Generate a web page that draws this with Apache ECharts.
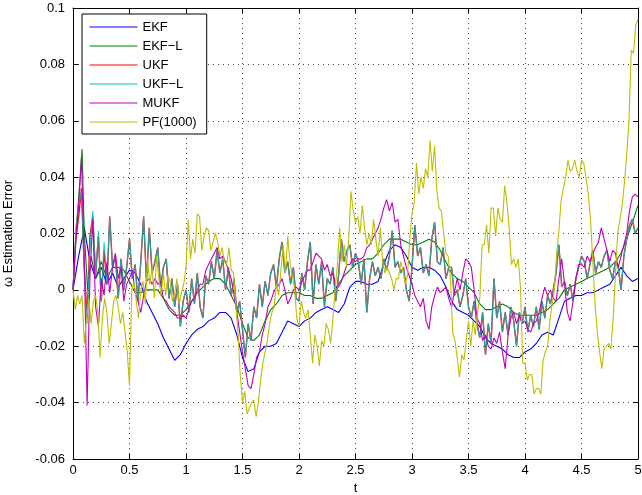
<!DOCTYPE html>
<html>
<head>
<meta charset="utf-8">
<script src="https://cdn.jsdelivr.net/npm/echarts@6/dist/echarts.min.js"></script>
<style>
html,body{margin:0;padding:0;background:#fff;}
#chart{width:642px;height:495px;}
</style>
</head>
<body>
<div id="chart"></div>
<script>
// ---------- data ----------
const seriesNames = ['EKF', 'EKF\u2212L', 'UKF', 'UKF\u2212L', 'MUKF', 'PF(1000)'];
const xTicks = [0, 0.5, 1, 1.5, 2, 2.5, 3, 3.5, 4, 4.5, 5];
const yTicks = [-0.06, -0.04, -0.02, 0, 0.02, 0.04, 0.06, 0.08, 0.1];

// EKF: sampled every 0.05 from t=0 to t=5
const ekfV = [
 0.000,0.012,0.022,0.010,0.004,0.008,0.002,0.006,0.001,0.004,
 0.007,0.006,0.002,-0.004,-0.008,-0.012,-0.017,-0.021,-0.025,-0.023,
 -0.019,-0.016,-0.014,-0.013,-0.011,-0.010,-0.008,-0.008,-0.010,-0.016,
 -0.024,-0.029,-0.028,-0.022,-0.020,-0.020,-0.019,-0.015,-0.011,-0.012,
 -0.013,-0.011,-0.010,-0.008,-0.007,-0.006,-0.007,-0.008,-0.005,0.001,
 0.003,0.003,0.002,0.002,0.003,0.009,0.014,0.016,0.015,0.012,
 0.008,0.007,0.008,0.008,0.007,0.005,0.001,-0.004,-0.007,-0.008,
 -0.009,-0.011,-0.013,-0.017,-0.019,-0.020,-0.021,-0.023,-0.024,-0.024,
 -0.022,-0.021,-0.019,-0.016,-0.015,-0.016,-0.010,-0.004,-0.003,-0.002,
 -0.002,-0.001,-0.001,0.000,0.001,0.002,0.005,0.008,0.005,0.003,
 0.004
];

// EKF-L: times and values
const ekflT = [0.00,0.03,0.06,0.08,0.10,0.13,0.16,0.20,0.25,0.30,0.35,0.40,0.45,0.50,0.55,0.60,0.65,0.70,0.75,0.80,
 0.85,0.90,0.95,1.00,1.05,1.10,1.15,1.20,1.25,1.30,1.35,1.40,1.45,1.50,1.55,1.60,1.65,1.70,1.75,1.80,
 1.85,1.90,1.95,2.00,2.05,2.10,2.15,2.20,2.25,2.30,2.35,2.40,2.45,2.50,2.55,2.60,2.65,2.70,2.75,2.80,
 2.85,2.90,2.95,3.00,3.05,3.10,3.15,3.20,3.25,3.30,3.35,3.40,3.45,3.50,3.55,3.60,3.65,3.70,3.75,3.80,
 3.85,3.90,3.95,4.00,4.05,4.10,4.15,4.20,4.25,4.30,4.35,4.40,4.45,4.50,4.55,4.60,4.65,4.70,4.75,4.80,
 4.85,4.90,4.95,5.00];
const ekflV = [0.000,0.022,0.038,0.050,0.020,0.000,0.012,0.004,0.010,0.004,0.008,0.008,0.007,0.003,-0.001,-0.001,0.000,0.000,0.000,-0.003,
 -0.007,-0.009,-0.009,-0.007,-0.004,-0.001,0.001,0.003,0.004,0.004,0.002,-0.002,-0.006,-0.012,-0.017,-0.018,-0.016,-0.011,-0.007,-0.005,
 -0.002,-0.001,-0.001,-0.001,-0.002,-0.002,-0.003,-0.003,-0.002,-0.001,0.002,0.005,0.007,0.009,0.010,0.011,0.011,0.013,0.016,0.018,
 0.018,0.018,0.017,0.016,0.016,0.017,0.018,0.017,0.014,0.010,0.006,0.004,0.003,0.001,-0.001,-0.005,-0.007,-0.007,-0.006,-0.005,
 -0.006,-0.008,-0.009,-0.009,-0.009,-0.009,-0.008,-0.007,-0.005,-0.003,0.000,0.001,0.002,0.003,0.004,0.005,0.006,0.007,0.008,0.010,
 0.013,0.018,0.024,0.030];

// UKF: sampled every 0.025 from t=0 to t=5
const ukfV = [
 0.000,0.018,0.026,0.036,0.008,-0.010,0.019,0.026,0.005,0.019,
 -0.004,0.014,0.002,0.026,0.008,0.012,-0.003,0.011,0.000,0.008,
 0.018,0.004,0.009,-0.004,0.010,0.026,0.003,0.022,0.006,0.010,
 0.015,0.001,0.008,0.011,-0.003,0.004,-0.006,0.002,-0.013,-0.004,
 0.000,-0.008,0.004,-0.005,0.006,-0.006,-0.010,0.005,0.002,0.010,
 0.004,0.014,0.006,0.011,0.000,0.008,-0.002,0.004,-0.008,-0.004,
 -0.014,-0.024,-0.012,-0.018,-0.006,-0.010,0.002,-0.006,0.003,-0.002,
 0.006,0.009,0.001,0.011,0.017,0.006,0.010,0.002,0.008,-0.003,
 -0.004,0.006,0.000,0.010,0.017,-0.005,0.009,0.002,0.010,-0.006,
 0.004,0.002,0.008,-0.004,0.005,0.018,0.010,0.014,0.016,0.008,
 0.013,0.010,0.002,0.011,-0.008,0.004,0.010,0.005,0.008,0.004,
 0.011,0.007,0.012,0.021,0.008,0.010,0.006,0.008,0.000,-0.004,
 0.008,0.023,0.012,0.015,0.006,0.009,0.005,0.018,0.024,0.010,
 0.009,0.015,0.004,0.008,0.008,-0.002,0.000,-0.006,-0.002,0.004,
 -0.006,-0.010,-0.004,-0.012,-0.017,-0.008,-0.023,-0.012,-0.019,0.004,
 -0.010,-0.004,-0.015,-0.008,-0.016,-0.006,-0.011,-0.020,-0.008,-0.012,
 -0.006,-0.015,-0.009,-0.013,-0.006,-0.014,-0.004,-0.010,-0.002,-0.005,
 0.000,0.006,0.016,0.001,0.003,-0.002,0.002,-0.004,0.004,0.008,
 0.012,0.010,0.004,0.009,0.014,0.006,0.010,0.008,0.012,0.014,
 0.007,0.004,0.010,0.008,0.000,0.012,0.018,0.023,0.025,0.020,
 0.022
];

// UKF-L: sampled every 0.025 from t=0 to t=5
const ukflV = [
 0.000,0.022,0.030,0.035,0.005,-0.012,0.015,0.028,0.005,0.021,
 -0.004,0.017,0.002,0.026,0.008,0.012,-0.003,0.011,0.000,0.008,
 0.018,0.004,0.009,-0.004,0.010,0.026,0.003,0.022,0.006,0.010,
 0.015,0.001,0.008,0.011,-0.003,0.004,-0.006,0.002,-0.013,-0.004,
 0.000,-0.008,0.004,-0.005,0.006,-0.006,-0.010,0.005,0.002,0.010,
 0.004,0.014,0.006,0.011,0.000,0.008,-0.002,0.004,-0.008,-0.004,
 -0.014,-0.024,-0.012,-0.018,-0.006,-0.010,0.002,-0.006,0.003,-0.002,
 0.006,0.009,0.001,0.011,0.017,0.006,0.010,0.002,0.008,-0.003,
 -0.004,0.006,0.000,0.010,0.017,-0.005,0.009,0.002,0.010,-0.006,
 0.004,0.002,0.008,-0.004,0.005,0.018,0.010,0.014,0.016,0.008,
 0.013,0.010,0.002,0.011,-0.008,0.004,0.010,0.005,0.008,0.004,
 0.011,0.007,0.012,0.021,0.008,0.010,0.006,0.008,0.000,-0.004,
 0.008,0.023,0.012,0.015,0.006,0.009,0.005,0.018,0.024,0.010,
 0.009,0.015,0.004,0.008,0.008,-0.002,0.000,-0.006,-0.002,0.004,
 -0.006,-0.010,-0.004,-0.012,-0.017,-0.008,-0.023,-0.012,-0.019,0.004,
 -0.010,-0.004,-0.015,-0.008,-0.016,-0.006,-0.011,-0.020,-0.008,-0.012,
 -0.006,-0.015,-0.009,-0.013,-0.006,-0.014,-0.004,-0.010,-0.002,-0.005,
 0.000,0.006,0.016,0.001,0.003,-0.002,0.002,-0.004,0.004,0.008,
 0.012,0.010,0.004,0.009,0.014,0.006,0.010,0.008,0.012,0.014,
 0.007,0.004,0.010,0.008,0.000,0.012,0.018,0.023,0.025,0.020,
 0.022
];

// MUKF: sampled every 0.025 from t=0 to t=5
const mukfV = [
 0.000,0.018,0.030,0.047,0.010,-0.041,0.005,0.025,-0.006,-0.013,
 0.004,-0.002,0.010,-0.001,0.008,0.013,0.004,0.008,-0.004,0.002,
 0.004,0.007,-0.001,-0.004,-0.008,-0.002,0.003,0.004,0.002,0.004,
 0.002,0.003,-0.003,-0.004,-0.006,-0.007,-0.008,-0.010,-0.010,-0.009,
 -0.010,-0.007,-0.004,-0.003,0.000,0.002,0.002,0.007,0.009,0.011,
 0.013,0.015,0.011,0.012,0.010,0.007,0.004,-0.002,-0.008,-0.015,
 -0.022,-0.028,-0.034,-0.035,-0.030,-0.024,-0.022,-0.016,-0.012,-0.006,
 -0.004,-0.001,0.001,0.002,0.004,0.000,-0.005,-0.003,0.000,0.001,
 0.000,0.003,0.005,0.007,0.007,0.010,0.013,0.012,0.011,0.007,
 0.009,0.005,0.006,0.001,0.001,0.003,0.006,0.009,0.009,0.011,
 0.010,0.011,0.011,0.012,0.015,0.016,0.018,0.020,0.022,0.025,
 0.029,0.032,0.028,0.031,0.024,0.025,0.016,0.012,0.008,0.005,
 0.002,-0.002,-0.004,-0.006,-0.003,-0.011,-0.014,-0.006,-0.002,0.001,
 -0.001,0.000,0.001,-0.003,-0.006,-0.001,0.004,0.000,0.006,0.011,
 0.010,0.008,0.000,-0.010,-0.012,-0.018,-0.016,-0.020,-0.021,-0.017,
 -0.019,-0.015,-0.022,-0.028,-0.016,-0.010,-0.008,-0.012,-0.009,-0.012,
 -0.011,-0.014,-0.015,-0.012,-0.011,-0.008,-0.003,0.001,-0.002,0.000,
 -0.003,-0.004,0.004,0.011,0.002,-0.008,-0.011,-0.004,0.004,0.009,
 0.009,0.008,0.012,0.010,0.013,0.015,0.017,0.022,0.018,0.014,
 0.010,0.014,0.013,0.008,0.012,0.016,0.020,0.028,0.033,0.034,
 0.033
];

// PF(1000): sampled every 0.02 from t=0 to t=5
const pfV = [
 0.000,-0.007,-0.002,-0.005,-0.002,-0.019,-0.010,-0.003,-0.012,-0.004,
 -0.002,-0.008,-0.024,-0.010,-0.003,-0.008,-0.019,-0.012,-0.004,-0.002,
 -0.006,-0.012,-0.008,-0.015,-0.022,-0.034,0.000,0.003,-0.004,-0.010,
 0.000,0.003,-0.005,0.011,0.002,0.008,-0.003,0.012,0.004,-0.002,
 0.006,-0.002,0.005,0.003,-0.004,-0.001,0.004,-0.005,-0.001,0.002,
 0.008,0.025,0.011,0.018,0.013,0.027,0.026,0.014,0.019,0.022,
 0.021,0.014,0.017,0.020,0.017,0.012,0.015,0.010,0.009,0.015,
 0.007,0.006,-0.005,-0.015,-0.030,-0.040,-0.036,-0.044,-0.042,-0.040,
 -0.039,-0.045,-0.040,-0.032,-0.026,-0.022,-0.018,-0.012,-0.008,-0.006,
 0.002,-0.002,0.007,0.016,0.006,0.019,0.010,0.005,0.001,-0.010,
 -0.013,-0.004,-0.008,-0.010,-0.007,-0.016,-0.026,-0.016,-0.020,-0.027,
 -0.018,-0.020,-0.012,-0.014,-0.019,-0.010,0.000,0.009,0.022,0.010,
 0.016,0.008,0.018,0.035,0.028,0.024,0.026,0.020,0.030,0.022,
 0.016,0.020,0.016,0.025,0.018,0.012,0.022,0.010,0.006,0.008,
 0.006,0.004,0.000,0.004,0.004,0.010,0.007,0.002,0.005,0.018,
 0.027,0.031,0.045,0.034,0.040,0.036,0.043,0.040,0.053,0.042,
 0.051,0.035,0.029,0.028,0.020,0.013,0.012,0.004,-0.015,-0.018,
 -0.024,-0.031,-0.023,-0.025,-0.018,-0.011,-0.020,-0.011,-0.016,-0.008,
 -0.003,0.016,0.016,0.023,0.013,0.029,0.029,0.019,0.029,0.025,
 0.024,0.037,0.031,0.022,0.009,0.011,0.008,0.011,0.001,-0.026,
 -0.026,-0.032,-0.030,-0.030,-0.037,-0.035,-0.035,-0.037,-0.025,-0.022,
 -0.020,-0.011,-0.005,0.000,0.013,0.021,0.032,0.036,0.040,0.046,
 0.042,0.043,0.046,0.042,0.040,0.046,0.045,0.040,0.034,0.025,
 0.010,-0.005,-0.015,-0.022,-0.028,-0.021,-0.020,-0.019,-0.021,-0.010,
 0.005,0.020,0.025,0.030,0.038,0.048,0.060,0.085,0.084,0.094,
 0.096
];

const colors = ['#0000ff', '#008000', '#ff0000', '#00bfbf', '#bf00bf', '#bfbf00'];

// ---------- build ----------
function onGrid(vals, tEnd) {
  const n = vals.length;
  return vals.map((v, i) => [i * tEnd / (n - 1), v]);
}
function pairs(ts, vs) { return ts.map((t, i) => [t, vs[i]]); }

const dataSets = [
  onGrid(ekfV, 5),
  pairs(ekflT, ekflV),
  onGrid(ukfV, 5),
  onGrid(ukflV, 5),
  onGrid(mukfV, 5),
  onGrid(pfV, 5)
];

const FONT = 'Liberation Sans, Arial, Helvetica, sans-serif';
const fmtY = v => String(parseFloat(Number(v).toFixed(2)));
const fmtX = v => String(parseFloat(Number(v).toFixed(2)));

const chart = echarts.init(document.getElementById('chart'), null, {renderer: 'canvas'});

const widths = [1.1, 1.1, 1.4, 1.1, 1.1, 1.1];
const opac = [1, 1, 1, 0.85, 1, 1];
const series = seriesNames.map((name, i) => ({
  name: name,
  type: 'line',
  data: dataSets[i],
  xAxisIndex: 0,
  yAxisIndex: 0,
  symbol: 'none',
  showSymbol: false,
  smooth: false,
  animation: false,
  z: 2 + i,
  lineStyle: {color: colors[i], width: widths[i], opacity: opac[i]},
  itemStyle: {color: colors[i]}
}));

chart.setOption({
  backgroundColor: '#ffffff',
  animation: false,
  grid: {left: 73, right: 4, top: 8, bottom: 36, containLabel: false, outerBoundsMode: 'none'},
  legend: {
    data: seriesNames,
    orient: 'vertical',
    left: 82, top: 14,
    itemWidth: 48, itemHeight: 14, itemGap: 5,
    padding: [6, 10, 5, 7],
    backgroundColor: '#ffffff',
    borderColor: '#000000',
    borderWidth: 1,
    borderRadius: 0,
    itemStyle: {opacity: 0},
    lineStyle: {width: 1, opacity: 1},
    textStyle: {fontFamily: FONT, fontSize: 13, color: '#000', lineHeight: 14},
    selectedMode: false
  },
  xAxis: [
    {
      type: 'value', min: xTicks[0], max: xTicks[xTicks.length - 1], interval: 0.5,
      position: 'bottom',
      name: 't', nameLocation: 'middle', nameGap: 20,
      nameTextStyle: {fontFamily: FONT, fontSize: 13, color: '#000'},
      axisLine: {show: true, onZero: false, lineStyle: {color: '#000', width: 1}},
      axisTick: {show: true, inside: true, length: 5, lineStyle: {color: '#000'}},
      axisLabel: {fontFamily: FONT, fontSize: 13, color: '#000', margin: 5, formatter: fmtX},
      splitLine: {show: true, lineStyle: {color: '#444', width: 1, type: [1, 4]}}
    },
    {
      type: 'value', min: xTicks[0], max: xTicks[xTicks.length - 1], interval: 0.5,
      position: 'top',
      axisLine: {show: true, onZero: false, lineStyle: {color: '#000', width: 1}},
      axisTick: {show: true, inside: true, length: 5, lineStyle: {color: '#000'}},
      axisLabel: {show: false},
      splitLine: {show: false}
    }
  ],
  yAxis: [
    {
      type: 'value', min: yTicks[0], max: yTicks[yTicks.length - 1], interval: 0.02,
      position: 'left',
      name: '\u03c9 Estimation Error', nameLocation: 'middle', nameGap: 58, nameRotate: 90,
      nameTextStyle: {fontFamily: FONT, fontSize: 13, color: '#000'},
      axisLine: {show: true, onZero: false, lineStyle: {color: '#000', width: 1}},
      axisTick: {show: true, inside: true, length: 5, lineStyle: {color: '#000'}},
      axisLabel: {fontFamily: FONT, fontSize: 13, color: '#000', margin: 8, formatter: fmtY},
      splitLine: {show: true, lineStyle: {color: '#444', width: 1, type: [1, 4]}}
    },
    {
      type: 'value', min: yTicks[0], max: yTicks[yTicks.length - 1], interval: 0.02,
      position: 'right',
      axisLine: {show: true, onZero: false, lineStyle: {color: '#000', width: 1}},
      axisTick: {show: true, inside: true, length: 5, lineStyle: {color: '#000'}},
      axisLabel: {show: false},
      splitLine: {show: false}
    }
  ],
  series: series
});
</script>
</body>
</html>
